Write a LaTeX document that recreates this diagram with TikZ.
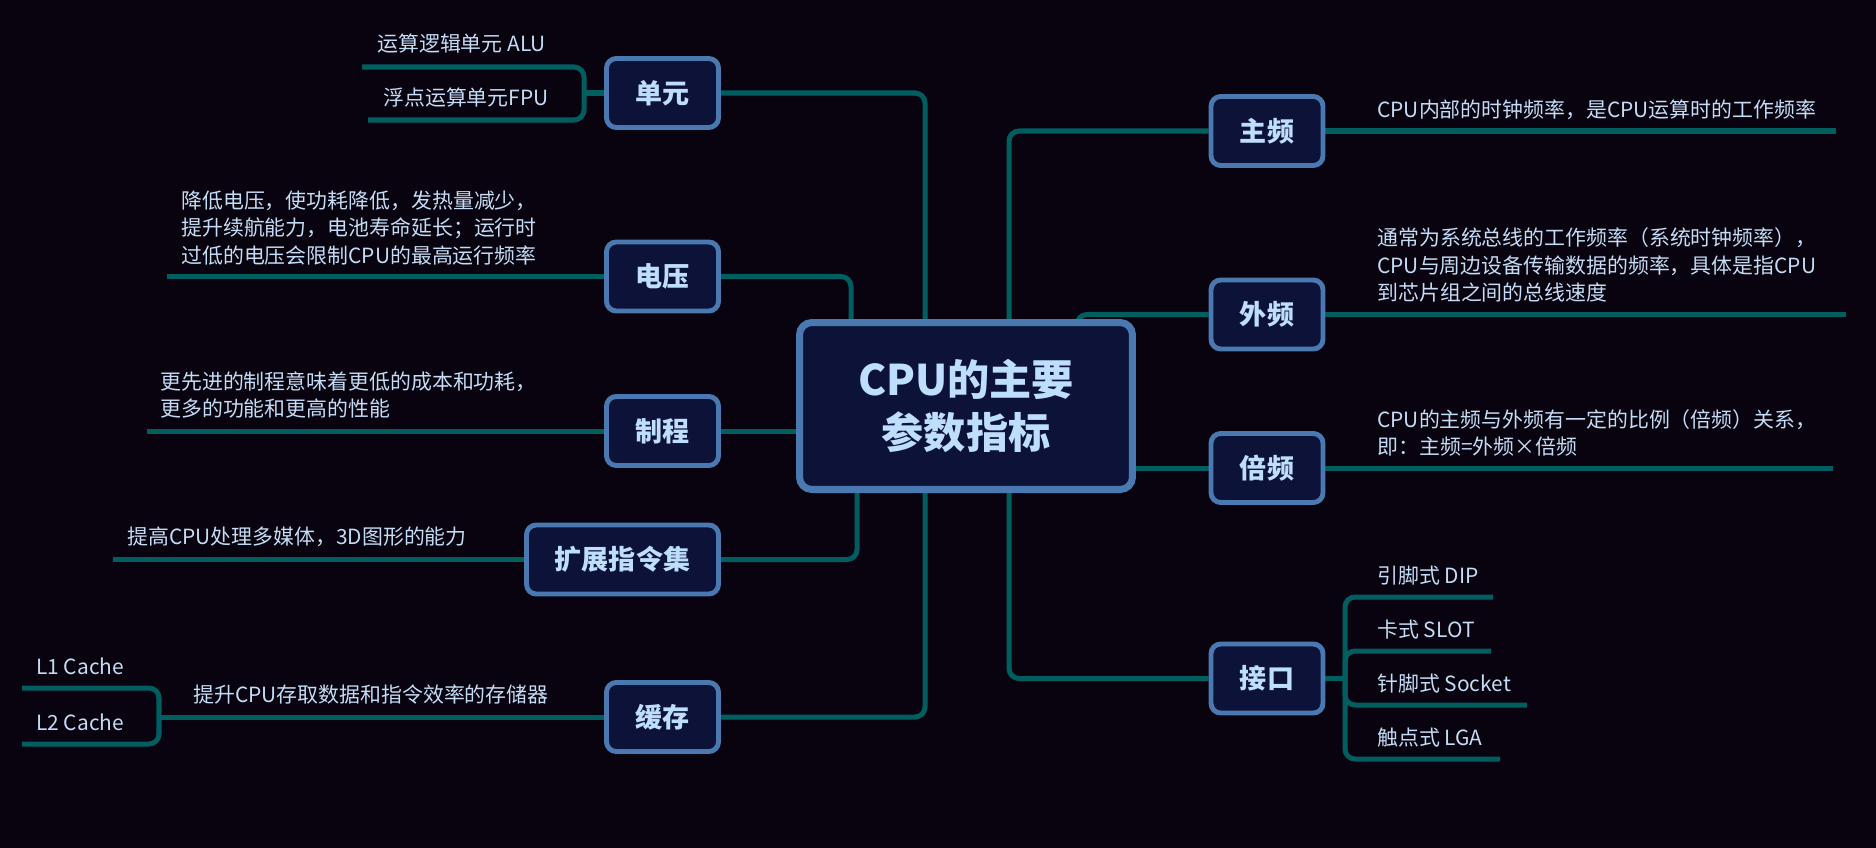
\documentclass[tikz,border=0pt]{standalone}
\usepackage{fontspec}
\setmainfont{Noto Sans CJK SC}
\usetikzlibrary{calc, backgrounds}
\definecolor{bgDark}{RGB}{8,3,14}
\definecolor{boxFill}{RGB}{13,19,56}
\definecolor{boxLine}{RGB}{74,120,176}
\definecolor{lineTeal}{RGB}{0,94,96}
\definecolor{labelBlue}{RGB}{190,222,255}
\definecolor{leafBlue}{RGB}{196,220,245}

\tikzset{
  topic/.style={draw=boxLine, line width=2.8pt, fill=boxFill, rounded corners=5.5pt,
    minimum width=2.24cm, minimum height=1.38cm, inner sep=0pt,
    text=labelBlue, font=\bfseries\fontsize{15.4}{18}\selectfont},
  leaf/.style={anchor=west, inner sep=0pt, align=left, text=leafBlue,
    font=\fontsize{11.9}{15.6}\selectfont},
  branch/.style={draw=lineTeal, line width=2.85pt, rounded corners=5.7pt},
}

\begin{document}
\begin{tikzpicture}[x=0.02cm, y=-0.02cm]
  \useasboundingbox (0,0) rectangle (1876,848);

  % centre and main topics
  \node[topic, line width=4pt, rounded corners=7pt, minimum width=6.66cm, minimum height=3.34cm,
    font=\bfseries\fontsize{24}{30.7}\selectfont, align=center] (centre) at (966,406) {CPU的主要\\参数指标};
  \node[topic] (unit) at (662.5,93) {单元};
  \node[topic] (volt) at (662.5,276.5) {电压};
  \node[topic] (proc) at (662.5,431) {制程};
  \node[topic, minimum width=3.84cm] (isa) at (622.5,559.5) {扩展指令集};
  \node[topic] (cache) at (662.5,717) {缓存};
  \node[topic] (mainf) at (1267,131) {主频};
  \node[topic] (extf) at (1267,314.5) {外频};
  \node[topic] (mult) at (1267,468) {倍频};
  \node[topic] (iface) at (1267,678.5) {接口};

  % leaf texts
  \node[leaf] (aluTxt) at (377,44) {运算逻辑单元 ALU};
  \node[leaf] (fpuTxt) at (383,98) {浮点运算单元FPU};
  \node[leaf] (voltTxt) at (181,228) {降低电压，使功耗降低，发热量减少，\\提升续航能力，电池寿命延长；运行时\\过低的电压会限制CPU的最高运行频率};
  \node[leaf] (procTxt) at (160,395) {更先进的制程意味着更低的成本和功耗，\\更多的功能和更高的性能};
  \node[leaf] (isaTxt) at (127,537) {提高CPU处理多媒体，3D图形的能力};
  \node[leaf] (cacheTxt) at (193,695) {提升CPU存取数据和指令效率的存储器};
  \node[leaf] (l1Txt) at (36,666) {L1 Cache};
  \node[leaf] (l2Txt) at (36,722) {L2 Cache};
  \node[leaf] (mainfTxt) at (1377,110) {CPU内部的时钟频率，是CPU运算时的工作频率};
  \node[leaf] (extfTxt) at (1377,265) {通常为系统总线的工作频率（系统时钟频率），\\CPU与周边设备传输数据的频率，具体是指CPU\\到芯片组之间的总线速度};
  \node[leaf] (multTxt) at (1377,433) {CPU的主频与外频有一定的比例（倍频）关系，\\即：主频=外频×倍频};
  \node[leaf] (dipTxt) at (1377,576) {引脚式 DIP};
  \node[leaf] (slotTxt) at (1377,630) {卡式 SLOT};
  \node[leaf] (sockTxt) at (1377,684) {针脚式 Socket};
  \node[leaf] (lgaTxt) at (1377,738) {触点式 LGA};

  % free ends and joints
  \coordinate (unitJ) at (584,93);
  \coordinate (aluEnd) at (362,67);
  \coordinate (fpuEnd) at (368,120);
  \coordinate (voltEnd) at (167,276.5);
  \coordinate (procEnd) at (147,431);
  \coordinate (isaEnd) at (113,559.5);
  \coordinate (cacheJ) at (159,717);
  \coordinate (l1End) at (22,688);
  \coordinate (l2End) at (22,744);
  \coordinate (mainfEnd) at (1836,131);
  \coordinate (extfEnd) at (1846,314.5);
  \coordinate (multEnd) at (1833,468);
  \coordinate (ifaceJ) at (1345,678.5);
  \coordinate (dipEnd) at (1493,597);
  \coordinate (slotEnd) at (1491,651);
  \coordinate (sockEnd) at (1527,705);
  \coordinate (lgaEnd) at (1500,759);

  \begin{pgfonlayer}{background}
    \fill[bgDark] (0,0) rectangle (1876,848);
    % centre to topics
    \draw[branch] (unit.east) -| ($(centre.north)+(-41,0)$);
    \draw[branch] (volt.east) -| ($(centre.north)+(-115,0)$);
    \draw[branch] (proc.east) -- (proc.east -| centre.west);
    \draw[branch] (isa.east) -| ($(centre.south)+(-109,0)$);
    \draw[branch] (cache.east) -| ($(centre.south)+(-41,0)$);
    \draw[branch] ($(centre.north)+(43,0)$) |- (mainf.west);
    \draw[branch] ($(centre.north)+(111,12)$) |- (extf.west);
    \draw[branch] (centre.east |- mult.west) -- (mult.west);
    \draw[branch] ($(centre.south)+(43,0)$) |- (iface.west);
    % topics to leaves
    \draw[branch] (unit.west) -- (unitJ);
    \draw[branch] (unitJ) |- (aluEnd);
    \draw[branch] (unitJ) |- (fpuEnd);
    \draw[branch] (volt.west) -- (voltEnd);
    \draw[branch] (proc.west) -- (procEnd);
    \draw[branch] (isa.west) -- (isaEnd);
    \draw[branch] (cache.west) -- (cacheJ);
    \draw[branch] (cacheJ) |- (l1End);
    \draw[branch] (cacheJ) |- (l2End);
    \draw[branch] (mainf.east) -- (mainfEnd);
    \draw[branch] (extf.east) -- (extfEnd);
    \draw[branch] (mult.east) -- (multEnd);
    \draw[branch] (iface.east) -- (ifaceJ);
    \draw[branch] (ifaceJ) |- (dipEnd);
    \draw[branch] (ifaceJ) |- (slotEnd);
    \draw[branch] (ifaceJ) |- (sockEnd);
    \draw[branch] (ifaceJ) |- (lgaEnd);
  \end{pgfonlayer}
\end{tikzpicture}
\end{document}
